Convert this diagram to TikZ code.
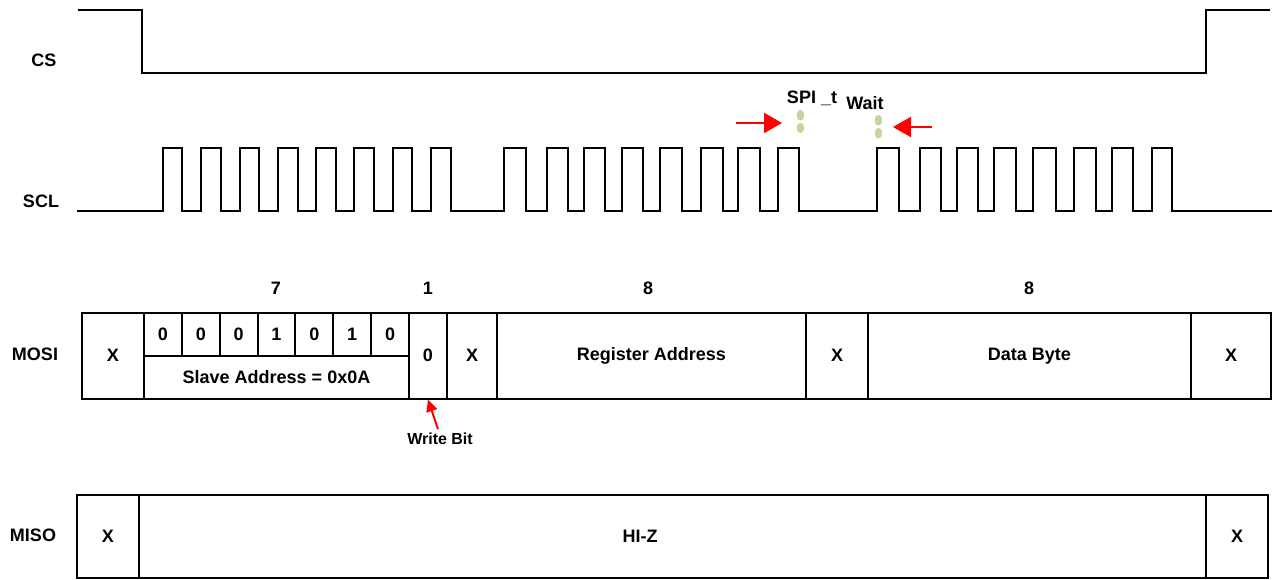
\documentclass[tikz,border=0pt]{standalone}
\usepackage{fontspec}
\setmainfont{Liberation Sans}
\usepackage{xcolor}
\usepackage{tikz}
\usetikzlibrary{positioning,arrows.meta,calc}
\definecolor{ink}{HTML}{000000}
\definecolor{pointerRed}{HTML}{FF0000}
\definecolor{gapGreen}{HTML}{C3D69B}

\begin{document}
\begin{tikzpicture}[x=1pt,y=-1pt,line width=2pt,
    lbl/.style={font=\bfseries\fontsize{18}{20}\selectfont, inner sep=0pt},
    cell/.style={draw=ink, line width=2pt, inner sep=0pt, font=\bfseries\fontsize{18}{20}\selectfont},
    pointer/.style={draw=pointerRed, line width=2pt, -{Triangle[length=18pt,width=20pt]}},
    gapmark/.style={draw=gapGreen, line width=7pt, line cap=round, dash pattern=on 3.5pt off 9.5pt}]
  \useasboundingbox (0,0) rectangle (1275,579);

  % signal names
  \node[lbl] (cs)   at (44,60)  {CS};
  \node[lbl] (scl)  at (41,201) {SCL};
  \node[lbl] (mosi) at (35,354) {MOSI};
  \node[lbl] (miso) at (33,535) {MISO};

  % chip select
  \draw[ink] (78,10) -- (142,10) -- (142,73) -- (1206,73) -- (1206,10) -- (1270,10);

  % clock, three bursts of eight
  \draw[ink] (77,211)
    \foreach \r/\f in {163/182,201/221,240/259,278/298,316/336,354/374,393/412,431/451,
                       504/526,547/568,584/605,622/643,660/682,701/723,738/760,778/799,
                       877/899,920/941,957/978,994/1016,1033/1056,1074/1096,1112/1133,1152/1172}
      { -- (\r,211) -- (\r,148) -- (\f,148) -- (\f,211) }
    -- (1272,211);

  % SPI_t wait markers
  \node[lbl] (spit) at (812,98)  {SPI \_t};
  \node[lbl] (wait) at (865,103) {Wait};
  \draw[gapmark] (800,113.5) -- (800,129.5);
  \draw[gapmark] (878,118.5) -- (878,135.5);
  \coordinate (ltail) at (736,123);
  \coordinate (lhead) at (782,123);
  \coordinate (rtail) at (932,127);
  \coordinate (rhead) at (893,127);
  \draw[pointer] (ltail) -- (lhead);
  \draw[pointer] (rtail) -- (rhead);

  % field widths
  \node[lbl] (n7)  at (276,288)  {7};
  \node[lbl] (n1)  at (428,288)  {1};
  \node[lbl] (n8a) at (648,288)  {8};
  \node[lbl] (n8b) at (1029,288) {8};

  % MOSI frame
  \node[cell, minimum width=62pt, minimum height=85.5pt] (mx0) at (113,355.75) {X};
  \foreach \b [count=\i] in {0,0,0,1,0,1,0}
    \node[cell, minimum width=37.857pt, minimum height=43pt] (bit\i) at ({144+37.857*(\i-0.5)},334.5) {\b};
  \node[cell, minimum width=265pt, minimum height=42.5pt] (slave) at (276.5,377.25) {Slave Address = 0x0A};
  \node[cell, minimum width=38pt, minimum height=85.5pt] (wr) at (428,355.75) {0};
  \node[cell, minimum width=50pt, minimum height=85.5pt] (mx1) at (472,355.75) {X};
  \node[cell, minimum width=309pt, minimum height=85.5pt] (reg) at (651.5,355.75) {Register Address};
  \node[cell, minimum width=62pt, minimum height=85.5pt] (mx2) at (837,355.75) {X};
  \node[cell, minimum width=323pt, minimum height=85.5pt] (data) at (1029.5,355.75) {Data Byte};
  \node[cell, minimum width=80pt, minimum height=85.5pt] (mx3) at (1231,355.75) {X};

  \node[lbl, font=\bfseries\fontsize{16}{18}\selectfont] (wbit) at (440,439) {Write Bit};
  \draw[draw=pointerRed, line width=2pt, -{Triangle[length=12pt,width=11pt]}] (wbit.north) ++(-2,-3) -- (wr.south);

  % MISO frame
  \node[cell, minimum width=62pt, minimum height=83pt] (sx0) at (108,536.5) {X};
  \node[cell, minimum width=1067pt, minimum height=83pt] (hiz) at (672.5,536.5) {};
  \node[lbl] (hiztext) at (640,536) {HI-Z};
  \node[cell, minimum width=62pt, minimum height=83pt] (sx1) at (1237,536.5) {X};
\end{tikzpicture}
\end{document}
